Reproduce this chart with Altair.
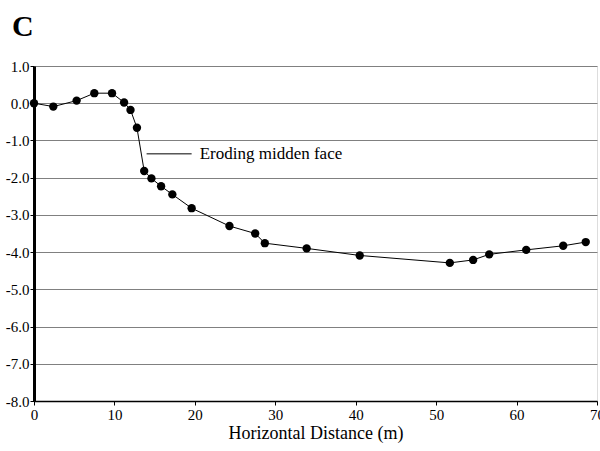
import altair as alt
import pandas as pd

x_vals = [0.0, 2.4, 5.3, 7.5, 9.7, 11.2, 12.0, 12.8, 13.7, 14.6, 15.8, 17.2, 19.6,
          24.3, 27.5, 28.7, 33.9, 40.5, 51.7, 54.6, 56.6, 61.2, 65.8, 68.6]
y_vals = [0.0, -0.09, 0.07, 0.27, 0.27, 0.02, -0.18, -0.66, -1.82, -2.02, -2.23, -2.45, -2.82,
          -3.30, -3.50, -3.76, -3.90, -4.09, -4.29, -4.21, -4.06, -3.94, -3.83, -3.73]

annot_text = ["Eroding midden face"]
annot_line_x = [14.0]
annot_line_x2 = [19.6]
annot_y = [-1.36]
annot_text_x = [20.6]

x_ticks = [0, 10, 20, 30, 40, 50, 60, 70]
y_ticks = [-8, -7, -6, -5, -4, -3, -2, -1, 0, 1]

df = pd.DataFrame({"x": x_vals, "y": y_vals})
ann = pd.DataFrame({"x": annot_line_x, "x2": annot_line_x2, "y": annot_y,
                    "tx": annot_text_x, "label": annot_text})

FONT = "Liberation Serif"

xscale = alt.Scale(domain=[0, 70], nice=False, zero=False)
yscale = alt.Scale(domain=[-8, 1], nice=False, zero=False)

xaxis = alt.Axis(values=x_ticks, title="Horizontal Distance (m)",
                 grid=False, domainColor="black", domainWidth=1.5,
                 tickColor="black", tickSize=4, labelFont=FONT, labelFontSize=15,
                 labelColor="black", titleFont=FONT, titleFontSize=18,
                 titleFontWeight="normal", titleColor="black", labelPadding=2,
                 titlePadding=2, labelFlush=False, labelOverlap=False, labelBound=False)
yaxis = alt.Axis(values=y_ticks, format=".1f", title=None, tickCount=10,
                 labelExpr="replace(datum.label, '\u2212', '-')",
                 grid=True, gridColor="#808080", gridWidth=1,
                 domainColor="black", domainWidth=3, tickColor="black",
                 tickSize=4, labelFont=FONT, labelFontSize=15, labelColor="black",
                 labelPadding=1, labelFlush=False, labelOverlap=False, labelBound=False)

X = alt.X("x:Q", scale=xscale, axis=xaxis)
Y = alt.Y("y:Q", scale=yscale, axis=yaxis)

base = alt.Chart(df)
line = base.mark_line(color="black", strokeWidth=1).encode(x=X, y=Y)
pts = base.mark_circle(color="black", opacity=1, size=70).encode(x=X, y=Y)
ann_line = alt.Chart(ann).mark_rule(color="black", strokeWidth=1).encode(
    x=alt.X("x:Q", scale=xscale, axis=xaxis), x2="x2:Q",
    y=alt.Y("y:Q", scale=yscale, axis=yaxis))
ann_text = alt.Chart(ann).mark_text(align="left", baseline="middle", font=FONT,
                                    fontSize=17, color="black").encode(
    x=alt.X("tx:Q", scale=xscale, axis=xaxis),
    y=alt.Y("y:Q", scale=yscale, axis=yaxis), text="label:N")
title = alt.Chart(pd.DataFrame({"t": ["C"]})).mark_text(
    align="left", baseline="alphabetic", font=FONT, fontSize=30,
    fontWeight="bold", color="black").encode(
    x=alt.value(-22), y=alt.value(-30), text="t:N")

chart = alt.layer(line, pts, ann_line, ann_text, title).properties(
    width=563, height=335,
    autosize=alt.AutoSizeParams(type="none"),
    padding={"left": 34, "top": 66, "right": 3, "bottom": 50},
).configure_view(stroke=None).configure(background="white")

chart.save("out.html", embed_options={"renderer": "svg", "actions": False})
